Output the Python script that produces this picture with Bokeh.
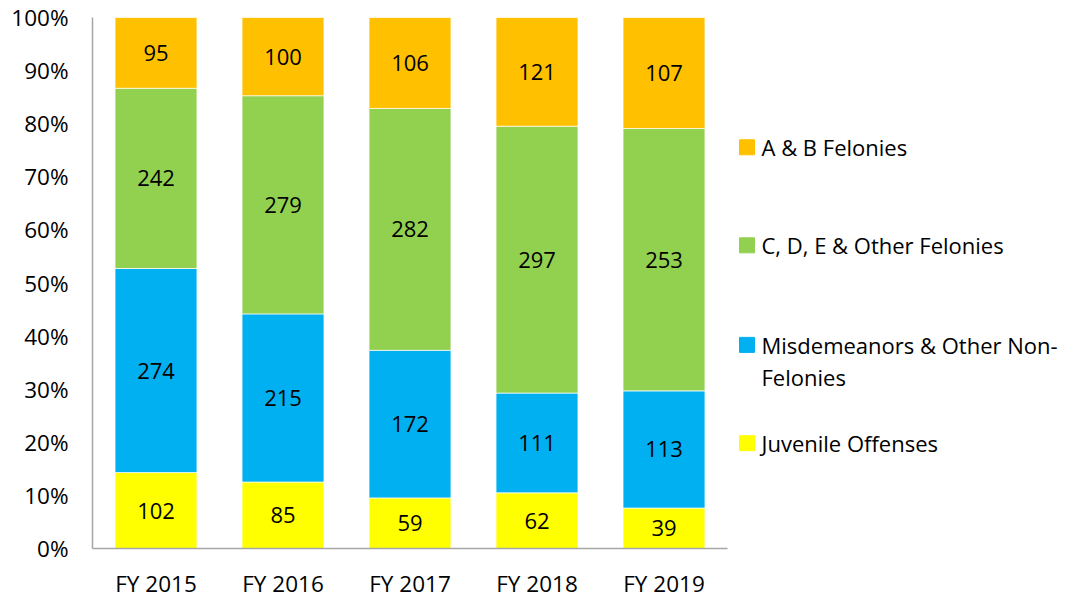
from bokeh.plotting import figure
from bokeh.models import ColumnDataSource, Range1d, FactorRange, FixedTicker
from bokeh.layouts import row
from bokeh.embed import file_html
from bokeh.resources import INLINE
from bokeh.core.properties import value

years = ["FY 2015", "FY 2016", "FY 2017", "FY 2018", "FY 2019"]
juvenile = [102, 85, 59, 62, 39]
misdemeanors = [274, 215, 172, 111, 113]
cde_felonies = [242, 279, 282, 297, 253]
ab_felonies = [95, 100, 106, 121, 107]

series_keys = ["juv", "mis", "cde", "ab"]
series_counts = [juvenile, misdemeanors, cde_felonies, ab_felonies]
series_names = ["Juvenile Offenses", "Misdemeanors & Other Non-Felonies",
                "C, D, E & Other Felonies", "A & B Felonies"]
colors = ["#FFFF00", "#00B0F0", "#92D050", "#FFC000"]

FONT = "Open Sans"

totals = [sum(vals) for vals in zip(*series_counts)]
data = {"years": years}
for k, counts in zip(series_keys, series_counts):
    data[k] = [100.0 * c / t for c, t in zip(counts, totals)]
source = ColumnDataSource(data)

p = figure(x_range=FactorRange(*years, range_padding=0), y_range=Range1d(0, 100),
           frame_width=635, frame_height=531,
           min_border_left=92, min_border_right=10, min_border_top=17, min_border_bottom=48,
           output_backend="svg", toolbar_location=None)

p.vbar_stack(series_keys, x="years", width=0.645, source=source, color=colors,
             line_color="white", line_width=0.7)

# value labels
lab_x, lab_y, lab_t = [], [], []
for i, y in enumerate(years):
    base = 0.0
    for k, counts in zip(series_keys, series_counts):
        h = data[k][i]
        lab_x.append(y)
        lab_y.append(base + h / 2)
        lab_t.append(str(counts[i]))
        base += h
p.text(x=lab_x, y=lab_y, text=lab_t, text_align="center", text_baseline="middle",
       text_font=value(FONT), text_font_size="22px", text_color="black")

p.xgrid.grid_line_color = None
p.ygrid.grid_line_color = None
p.outline_line_color = None

p.yaxis.ticker = FixedTicker(ticks=list(range(0, 101, 10)))
p.yaxis.major_label_overrides = {t: f"{t}%" for t in range(0, 101, 10)}
for ax in (p.xaxis[0], p.yaxis[0]):
    ax.axis_line_color = "#A6A6A6"
    ax.axis_line_width = 1.5
    ax.major_tick_line_color = None
    ax.minor_tick_line_color = None
    ax.major_tick_out = 0
    ax.major_tick_in = 0
    ax.major_label_text_font = FONT
    ax.major_label_text_font_size = "22.5px"
    ax.major_label_text_color = "black"
p.yaxis.major_label_standoff = 24
p.xaxis.major_label_standoff = 19

# legend panel (its frame is aligned with the main frame: page y 17..548)
LW, LH = 340, 596
lg = figure(width=LW, height=LH, x_range=Range1d(0, LW), y_range=Range1d(548, 17),
            min_border=0, output_backend="svg", toolbar_location=None)
lg.axis.visible = False
lg.grid.grid_line_color = None
lg.outline_line_color = None

leg_colors = list(reversed(colors))
leg_y = [148, 247, 347.5, 446.7]
lg.rect(x=[9.5] * 4, y=leg_y, width=15, height=15, width_units="screen",
        height_units="screen", color=leg_colors)
leg_lines = ["A & B Felonies", "C, D, E & Other Felonies",
             "Misdemeanors & Other Non-", "Felonies", "Juvenile Offenses"]
leg_line_y = [148, 247, 347.5, 380, 446.7]
lg.text(x=[24] * 5, y=leg_line_y, text=leg_lines, text_align="left", text_baseline="middle",
        text_font=value(FONT), text_font_size="22px", text_color="black")

layout = row(p, lg, spacing=0)
open("out.html", "w").write(file_html(layout, INLINE))
